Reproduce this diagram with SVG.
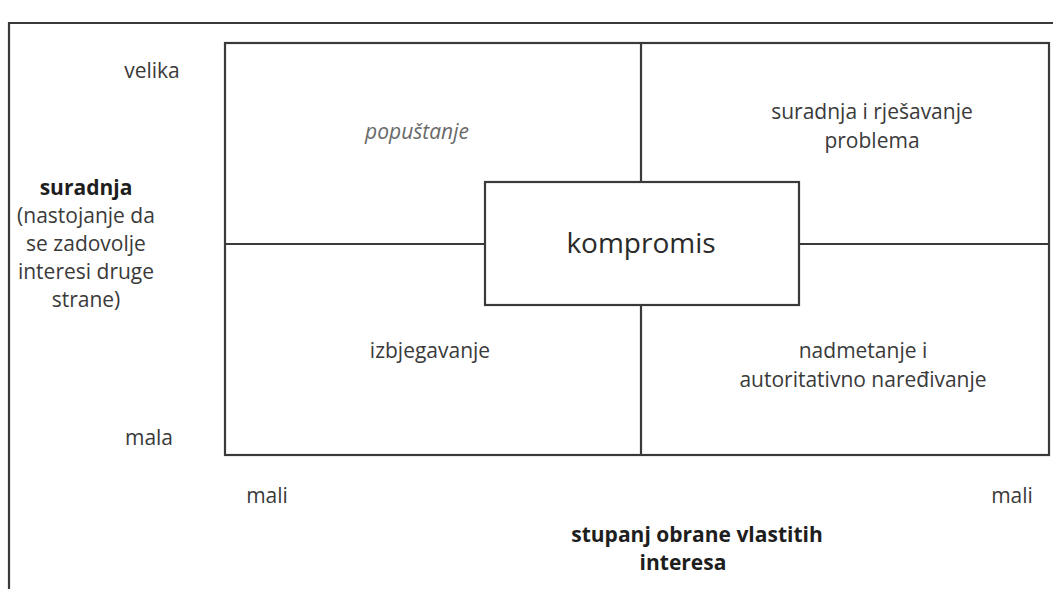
<svg xmlns="http://www.w3.org/2000/svg" width="1053" height="589" viewBox="0 0 1053 589">
<style>
.ln{fill:none;stroke:#3a3a3a;stroke-width:2.2}
.t{font-family:"Open Sans","Noto Sans",sans-serif;font-size:21px;fill:#3a3a3a;text-anchor:middle}
.b{font-weight:bold;fill:#1e1e1e}
.it{font-style:italic;fill:#6a6a6a}
.big{font-size:28px;fill:#2a2a2a}
</style>
<rect width="1053" height="589" fill="#ffffff"/>
<g id="frame"><path class="ln" d="M9 589 V23 H1053"/></g>
<g id="grid"><rect class="ln" x="225" y="43" width="824" height="412"/></g>
<g id="connectors">
<line class="ln" x1="641" y1="43" x2="641" y2="182"/>
<line class="ln" x1="641" y1="305" x2="641" y2="455"/>
<line class="ln" x1="225" y1="244" x2="485" y2="244"/>
<line class="ln" x1="799" y1="244" x2="1049" y2="244"/>
</g>
<g id="kompromis">
<rect class="ln" x="485" y="182" width="314" height="123" fill="#ffffff"/>
<text class="t big" x="641" y="253">kompromis</text>
</g>
<g id="popustanje"><text class="t it" x="417" y="139">popuštanje</text></g>
<g id="suradnja-rjesavanje"><text class="t" x="872" y="119">suradnja i rješavanje</text><text class="t" x="872" y="148">problema</text></g>
<g id="izbjegavanje"><text class="t" x="430" y="358">izbjegavanje</text></g>
<g id="nadmetanje"><text class="t" x="863" y="358">nadmetanje i</text><text class="t" x="863" y="387">autoritativno naređivanje</text></g>
<g id="y-axis">
<text class="t" x="152" y="78">velika</text>
<text class="t b" x="86" y="195">suradnja</text>
<text class="t" x="86" y="223">(nastojanje da</text>
<text class="t" x="86" y="251">se zadovolje</text>
<text class="t" x="86" y="279">interesi druge</text>
<text class="t" x="86" y="307">strane)</text>
<text class="t" x="149" y="445">mala</text>
</g>
<g id="x-axis">
<text class="t" x="267" y="503">mali</text>
<text class="t" x="1012" y="503">mali</text>
<text class="t b" x="697" y="542">stupanj obrane vlastitih</text>
<text class="t b" x="683" y="570">interesa</text>
</g>
</svg>
